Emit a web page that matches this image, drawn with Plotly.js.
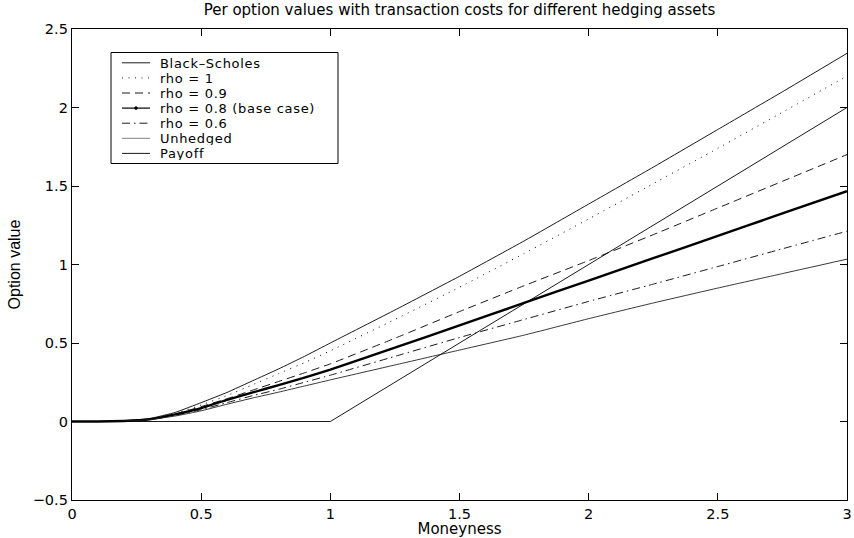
<!DOCTYPE html>
<html>
<head>
<meta charset="utf-8">
<script src="https://cdn.plot.ly/plotly-3.0.1.min.js"></script>
<style>
html,body{margin:0;padding:0;background:#fff;}
#chart{width:854px;height:538px;}
#chart .annotation-text{letter-spacing:0.7px;}
</style>
</head>
<body>
<div id="chart"></div>
<script>
// ---- data ----
const moneyness    = [0, 0.1, 0.2, 0.3, 0.4, 0.5, 0.6, 0.7, 0.8, 0.9, 1.0, 1.25, 1.5, 1.75, 2.0, 2.25, 2.5, 2.75, 3.0];
const blackScholes = [0, 0, 0.004, 0.018, 0.058, 0.12, 0.185, 0.26, 0.335, 0.415, 0.50, 0.71, 0.925, 1.15, 1.385, 1.62, 1.86, 2.10, 2.345];
const rho1         = [0, 0, 0.003, 0.016, 0.05, 0.105, 0.165, 0.235, 0.305, 0.375, 0.45, 0.65, 0.855, 1.07, 1.29, 1.515, 1.74, 1.97, 2.20];
const rho09        = [0, 0, 0.003, 0.015, 0.047, 0.095, 0.145, 0.20, 0.255, 0.31, 0.367, 0.53, 0.70, 0.865, 1.025, 1.19, 1.36, 1.53, 1.70];
const rho08        = [0, 0, 0.003, 0.014, 0.045, 0.085, 0.138, 0.185, 0.232, 0.28, 0.331, 0.47, 0.612, 0.755, 0.898, 1.04, 1.182, 1.325, 1.467];
const rho06        = [0, 0, 0.003, 0.013, 0.04, 0.075, 0.12, 0.165, 0.205, 0.25, 0.295, 0.415, 0.535, 0.65, 0.765, 0.875, 0.987, 1.10, 1.212];
const unhedged     = [0, 0, 0.002, 0.012, 0.035, 0.068, 0.11, 0.15, 0.187, 0.226, 0.265, 0.36, 0.455, 0.55, 0.655, 0.755, 0.85, 0.942, 1.034];
const payoff       = [0, 0, 0, 0, 0, 0, 0, 0, 0, 0, 0, 0.25, 0.5, 0.75, 1.0, 1.25, 1.5, 1.75, 2.0];
const seriesNames  = ['Black\u2013Scholes', 'rho = 1', 'rho = 0.9', 'rho = 0.8 (base case)', 'rho = 0.6', 'Unhedged', 'Payoff'];
const xTicks = [0, 0.5, 1, 1.5, 2, 2.5, 3];
const yTicks = [-0.5, 0, 0.5, 1, 1.5, 2, 2.5];

// ---- styles ----
const styles = [
  {color:'#000', width:0.9, dash:'solid'},
  {color:'#000', width:1, dash:'1px,5.5px'},
  {color:'#000', width:0.9, dash:'8px,5px'},
  {color:'#000', width:2.4, dash:'solid'},
  {color:'#000', width:0.9, dash:'8px,4px,1.5px,4px'},
  {color:'#222', width:0.9, dash:'solid'},
  {color:'#000', width:0.9, dash:'solid'}
];
const legendSampleColor = ['#000','#000','#000','#000','#000','#777','#000'];
const ys = [blackScholes, rho1, rho09, rho08, rho06, unhedged, payoff];
const traces = ys.map((y, i) => ({
  x: moneyness, y: y, type: 'scatter', mode: 'lines', name: seriesNames[i], showlegend: false,
  line: Object.assign({shape: i === 6 ? 'linear' : 'spline', smoothing: 0.3}, styles[i])
}));

const H = '"DejaVu Sans", Verdana, sans-serif';
const fnt = {family: H, color: '#000', size: 14.5};

// plot-area geometry (pixels)
const M = {l: 72, r: 7, t: 29, b: 38};
const PW = 854 - M.l - M.r, PH = 538 - M.t - M.b;
const px2x = p => (p - M.l) / PW;
const px2y = p => (538 - M.b - p) / PH;

// hand-built legend (compact like the MATLAB legend)
const shapes = [{type: 'rect', xref: 'paper', yref: 'paper',
  x0: px2x(111), x1: px2x(338), y0: px2y(163.5), y1: px2y(52.5),
  fillcolor: '#fff', line: {color: '#000', width: 1}, layer: 'above'}];
const annotations = [];
seriesNames.forEach((nm, i) => {
  const cy = 62.8 + 15.1 * i;
  shapes.push({type: 'line', xref: 'paper', yref: 'paper', layer: 'above',
    x0: px2x(122), x1: px2x(150), y0: px2y(cy), y1: px2y(cy),
    line: {color: legendSampleColor[i], width: i === 3 ? 1.2 : 0.9, dash: styles[i].dash}});
  if (i === 3) {
    shapes.push({type: 'circle', xref: 'paper', yref: 'paper', layer: 'above',
      x0: px2x(134.5), x1: px2x(137.5), y0: px2y(cy + 1.5), y1: px2y(cy - 1.5),
      fillcolor: '#000', line: {color: '#000', width: 0.5}});
  }
  annotations.push({xref: 'paper', yref: 'paper', x: px2x(159), y: px2y(cy),
    xanchor: 'left', yanchor: 'middle', showarrow: false, text: nm,
    borderpad: 0, height: 14, width: 175, align: 'left',
    font: {family: H, size: 13, color: '#000'}});
});

const axisCommon = {
  showline: true, linecolor: '#000', linewidth: 1.2, mirror: 'ticks',
  ticks: 'inside', ticklen: 7, tickcolor: '#000', tickwidth: 1,
  showgrid: false, zeroline: false, tickfont: fnt, tickmode: 'array'
};
const layout = {
  width: 854, height: 538,
  margin: M,
  paper_bgcolor: '#fff', plot_bgcolor: '#fff',
  font: fnt,
  showlegend: false,
  title: {text: 'Per option values with transaction costs for different hedging assets',
          font: {family: H, size: 15, color: '#000'}, xref: 'paper', x: 0.5, xanchor: 'center', y: 0.982, yanchor: 'middle'},
  xaxis: Object.assign({}, axisCommon, {range: [0, 3], tickvals: xTicks, ticktext: xTicks.map(String),
          title: {text: 'Moneyness', font: {family: H, size: 15}, standoff: 0}}),
  yaxis: Object.assign({}, axisCommon, {range: [-0.5, 2.5], tickvals: yTicks,
          ticktext: yTicks.map(v => v < 0 ? '\u2212' + String(-v) : String(v)),
          title: {text: 'Option value', font: {family: '"Liberation Sans", Arial, sans-serif', size: 16}, standoff: 8}}),
  shapes: shapes,
  annotations: annotations
};
Plotly.newPlot('chart', traces, layout, {staticPlot: true, displayModeBar: false});
</script>
</body>
</html>
